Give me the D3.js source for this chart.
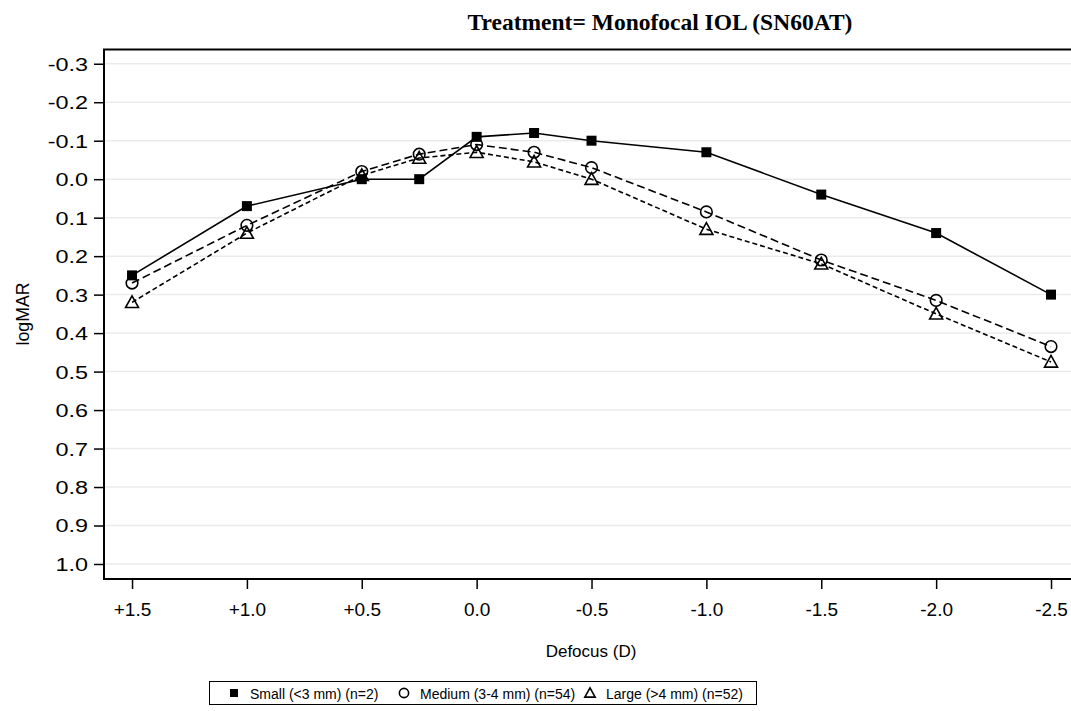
<!DOCTYPE html>
<html>
<head>
<meta charset="utf-8">
<script src="https://cdn.jsdelivr.net/npm/d3@7"></script>
<style>
  body { margin: 0; background: #fff; }
  text { font-family: "Liberation Sans", Arial, sans-serif; fill: #000; }
</style>
</head>
<body>
<div id="chart"></div>
<script>
let defocus = [1.5, 1.0, 0.5, 0.25, 0.0, -0.25, -0.5, -1.0, -1.5, -2.0, -2.5];
let small = [0.25, 0.07, 0.00, 0.00, -0.11, -0.12, -0.10, -0.07, 0.04, 0.14, 0.30];
let medium = [0.27, 0.12, -0.02, -0.065, -0.09, -0.07, -0.03, 0.085, 0.21, 0.315, 0.435];
let large = [0.32, 0.14, -0.01, -0.055, -0.07, -0.045, 0.00, 0.13, 0.22, 0.35, 0.475];
let seriesNames = ['Small (<3 mm) (n=2)', 'Medium (3-4 mm) (n=54)', 'Large (>4 mm) (n=52)'];
let xTicks = [1.5, 1.0, 0.5, 0.0, -0.5, -1.0, -1.5, -2.0, -2.5];
let yTicks = [-0.3, -0.2, -0.1, 0.0, 0.1, 0.2, 0.3, 0.4, 0.5, 0.6, 0.7, 0.8, 0.9, 1.0];

let width = 1071, height = 711,
    mLeft = 104, mRight = 1071, mTop = 49.5, mBottom = 579;

let svg = d3.select('#chart').append('svg')
    .attr('width', width)
    .attr('height', height);

let x = d3.scaleLinear().domain([1.622, -2.587]).range([mLeft, mRight]),
    y = d3.scaleLinear().domain([-0.337, 1.039]).range([mTop, mBottom]);

// grid lines
svg.append('g').selectAll('line')
    .data(yTicks)
    .enter().append('line')
    .attr('x1', mLeft).attr('x2', mRight)
    .attr('y1', d => y(d)).attr('y2', d => y(d))
    .style('stroke', '#ebebeb')
    .style('stroke-width', '1.5px');

// plain hyphen, not the unicode minus d3 uses
let fmt = d => d3.format('.1f')(d).replace('\u2212', '-'),
    fmtX = d => (d > 0 ? '+' : '') + fmt(d);

let yAxis = d3.axisLeft(y)
    .tickValues(yTicks)
    .tickFormat(fmt)
    .tickSize(10)
    .tickSizeOuter(0)
    .tickPadding(6);

let xAxis = d3.axisBottom(x)
    .tickValues(xTicks)
    .tickFormat(fmtX)
    .tickSize(10)
    .tickSizeOuter(0)
    .tickPadding(14);

let gy = svg.append('g')
    .attr('transform', 'translate(' + mLeft + ',0)')
    .call(yAxis);
let gx = svg.append('g')
    .attr('transform', 'translate(0,' + mBottom + ')')
    .call(xAxis);

[gx, gy].forEach(g => {
    g.select('.domain').remove();
    g.selectAll('line').style('stroke', '#000').style('stroke-width', '1.5px');
    g.selectAll('text').style('font-family', '"Liberation Sans", Arial, sans-serif');
});
gx.selectAll('text').style('font-size', '19px');
gy.selectAll('text').style('font-size', '18px')
    .attr('dy', '0.36em')
    .each(function () {
        // y labels in the original are drawn a bit wider
        let w = this.getComputedTextLength();
        d3.select(this).attr('textLength', w * 1.3).attr('lengthAdjust', 'spacingAndGlyphs');
    });

// frame: left, top, bottom
svg.append('path')
    .attr('d', 'M' + mRight + ',' + mTop + 'H' + mLeft + 'V' + mBottom + 'H' + mRight)
    .style('fill', 'none')
    .style('stroke', '#000')
    .style('stroke-width', '2px');

// lines
let series = [small, medium, large],
    dashes = [null, '8,4', '5,3'];

let line = d3.line()
    .x((d, i) => x(defocus[i]))
    .y(d => y(d));

series.forEach((s, i) => {
    svg.append('path')
        .datum(s)
        .attr('d', line)
        .style('fill', 'none')
        .style('stroke', '#000')
        .style('stroke-width', '1.6px')
        .style('stroke-dasharray', dashes[i]);
});

function marker(g, k, cx, cy, scale) {
    scale = scale || 1;
    if (k === 0) {
        g.append('rect')
            .attr('x', cx - 5 * scale).attr('y', cy - 5 * scale)
            .attr('width', 10 * scale).attr('height', 10 * scale)
            .style('fill', '#000');
    } else if (k === 1) {
        g.append('circle')
            .attr('cx', cx).attr('cy', cy).attr('r', 5.8 * scale)
            .style('fill', 'none').style('stroke', '#000').style('stroke-width', '1.6px');
    } else {
        let r = 6.5 * scale;
        g.append('path')
            .attr('d', 'M' + cx + ',' + (cy - r) + 'L' + (cx + r) + ',' + (cy + r * 0.8) + 'L' + (cx - r) + ',' + (cy + r * 0.8) + 'Z')
            .style('fill', 'none').style('stroke', '#000').style('stroke-width', '1.6px');
    }
}

let gm = svg.append('g');
series.forEach((s, k) => {
    s.forEach((v, i) => marker(gm, k, x(defocus[i]), y(v)));
});

// title
svg.append('text')
    .attr('x', 660).attr('y', 30)
    .attr('text-anchor', 'middle')
    .style('font-family', '"Liberation Serif", "Times New Roman", serif')
    .style('font-weight', 'bold')
    .style('font-size', '23.5px')
    .text('Treatment= Monofocal IOL (SN60AT)');

// axis labels
svg.append('text')
    .attr('x', 591).attr('y', 657)
    .attr('text-anchor', 'middle')
    .style('font-size', '17px')
    .text('Defocus (D)');

svg.append('text')
    .attr('transform', 'translate(29,314) rotate(-90)')
    .attr('text-anchor', 'middle')
    .attr('textLength', 63)
    .attr('lengthAdjust', 'spacingAndGlyphs')
    .style('font-size', '18px')
    .text('logMAR');

// legend
let lg = svg.append('g');
lg.append('rect')
    .attr('x', 209.5).attr('y', 681.5)
    .attr('width', 547).attr('height', 23)
    .style('fill', 'none').style('stroke', '#000').style('stroke-width', '1px');

let legendPos = [234, 404, 590];
seriesNames.forEach((name, k) => {
    marker(lg, k, legendPos[k], 693, 0.8);
    lg.append('text')
        .attr('x', legendPos[k] + 16).attr('y', 698.5)
        .style('font-size', '14px')
        .text(name);
});
</script>
</body>
</html>
